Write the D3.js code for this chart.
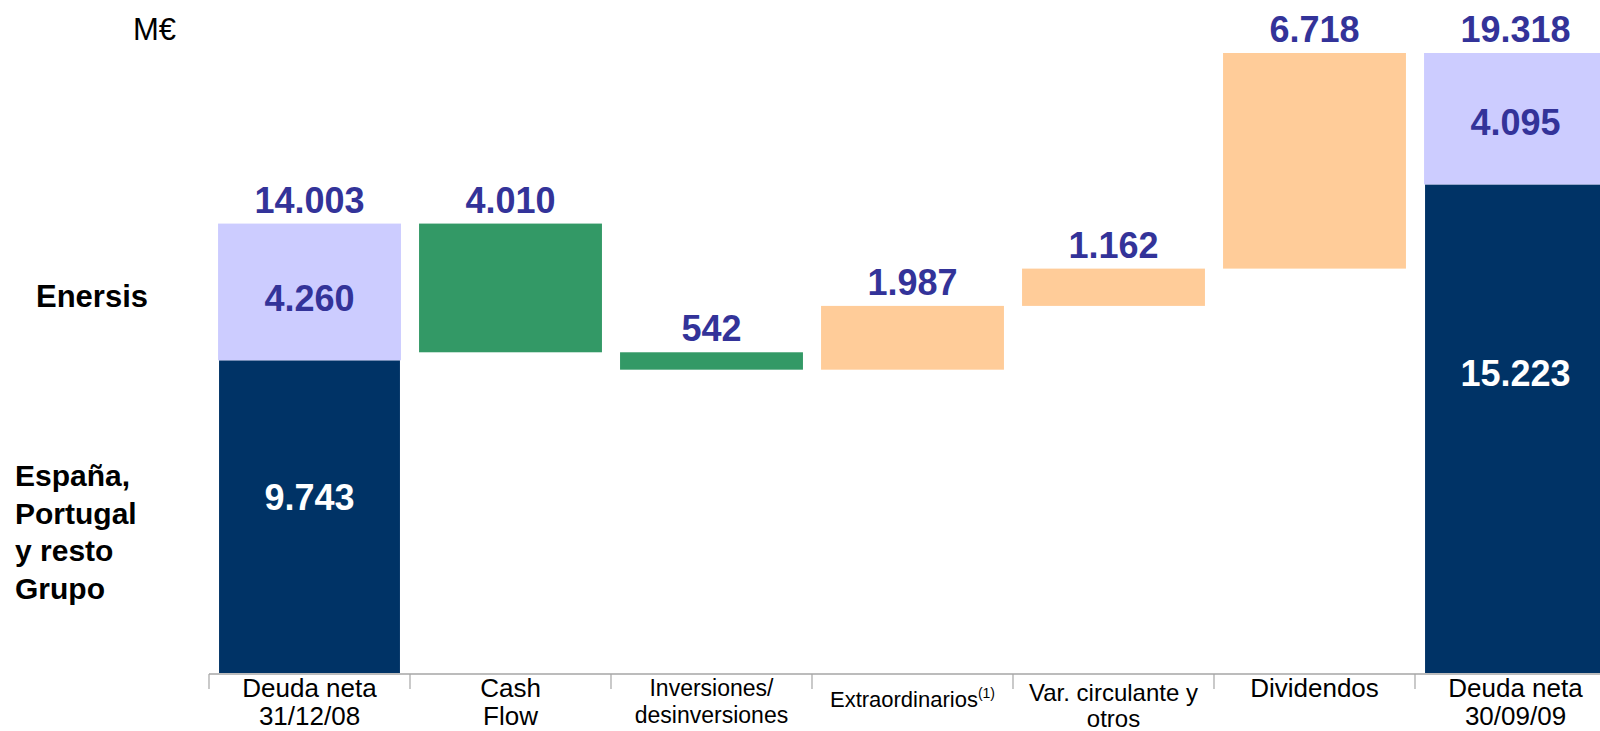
<!DOCTYPE html>
<html>
<head>
<meta charset="utf-8">
<script src="https://cdn.jsdelivr.net/npm/d3@7"></script>
<style>
  body { margin: 0; background: #fff; }
  text { font-family: "Liberation Sans", Arial, sans-serif; }
</style>
</head>
<body>
<svg id="chart" width="1600" height="731"></svg>
<script>
// categories (tick labels, one entry per line)
var categories = ["ini", "cash", "inv", "extra", "circ", "div", "fin"]
var tickLines = [
  ["Deuda neta", "31/12/08"],
  ["Cash", "Flow"],
  ["Inversiones/", "desinversiones"],
  ["Extraordinarios"],
  ["Var. circulante y", "otros"],
  ["Dividendos"],
  ["Deuda neta", "30/09/09"]
]
var footnotes = ["", "", "", "(1)", "", "", ""]

// opening / closing net debt split (M€)
var openingSplit = [9743, 4260]     // España, Portugal y resto Grupo ; Enersis
var closingSplit = [15223, 4095]
// movements between them
var movements = [-4010, -542, 1987, 1162, 6718]

var rowLabels = [["Enersis"], ["España,", "Portugal", "y resto", "Grupo"]]
var unitLabel = "M€"

var colors = {dark: "#003366", light: "#ccccff", down: "#339966", up: "#ffcc99", value: "#333399"}

var fmt = d3.formatLocale({decimal: ",", thousands: ".", grouping: [3], currency: ["", "€"]}).format(",d")

var svg = d3.select("#chart")

var x = d3.scaleBand()
  .domain(categories)
  .range([209, 1616])
  .paddingInner(0.09)
  .paddingOuter(0.045)

var openTotal = d3.sum(openingSplit)

var y = d3.scaleLinear()
  .domain([0, 19318])
  .range([673, 53])

// build floating steps
var run = openTotal
var steps = movements.map(function(v, i) {
  var start = run
  run = run + v
  return {cat: categories[i + 1], from: start, to: run, v: v}
})

// stacked end bars
var stacks = [
  {cat: categories[0], parts: openingSplit},
  {cat: categories[6], parts: closingSplit}
]

var g = svg.append("g")

stacks.forEach(function(s, si) {
  var base = 0
  s.parts.forEach(function(v, pi) {
    g.append("rect")
      .attr("x", x(s.cat) + (pi == 0 ? 1 : 0))
      .attr("width", x.bandwidth() - (pi == 0 ? 2 : 0))
      .attr("y", y(base + v))
      .attr("height", y(base) - y(base + v))
      .attr("fill", pi == 0 ? colors.dark : colors.light)
    // label inside segment (dark one sits a bit above its middle)
    var mid = (y(base) + y(base + v)) / 2
    var nudge = pi == 0 ? (si == 0 ? -20 : -56) : (si == 0 ? 6 : 3)
    g.append("text")
      .attr("x", x(s.cat) + x.bandwidth() / 2)
      .attr("y", mid + nudge + 13)
      .attr("text-anchor", "middle")
      .attr("font-size", 36)
      .attr("font-weight", "bold")
      .attr("fill", pi == 0 ? "#fff" : colors.value)
      .text(fmt(v))
    base += v
  })
  g.append("text")
    .attr("x", x(s.cat) + x.bandwidth() / 2)
    .attr("y", y(base) - 11)
    .attr("text-anchor", "middle")
    .attr("font-size", 36)
    .attr("font-weight", "bold")
    .attr("fill", colors.value)
    .text(fmt(base))
})

g.selectAll(".step")
  .data(steps)
  .enter()
  .append("rect")
  .attr("class", "step")
  .attr("x", function(d) { return x(d.cat) })
  .attr("width", x.bandwidth())
  .attr("y", function(d) { return y(Math.max(d.from, d.to)) })
  .attr("height", function(d) { return Math.abs(y(d.from) - y(d.to)) })
  .attr("fill", function(d) { return d.v < 0 ? colors.down : colors.up })

g.selectAll(".stepLabel")
  .data(steps)
  .enter()
  .append("text")
  .attr("class", "stepLabel")
  .attr("x", function(d) { return x(d.cat) + x.bandwidth() / 2 })
  .attr("y", function(d) { return y(Math.max(d.from, d.to)) - 11 })
  .attr("text-anchor", "middle")
  .attr("font-size", 36)
  .attr("font-weight", "bold")
  .attr("fill", colors.value)
  .text(function(d) { return fmt(Math.abs(d.v)) })

// category axis
var axisY = 674
var step = x.step()
var bandStart = x(categories[0]) - x.paddingOuter() * step
svg.append("line")
  .attr("x1", bandStart).attr("x2", 1600)
  .attr("y1", axisY).attr("y2", axisY)
  .attr("stroke", "#a6a6a6").attr("stroke-width", 1.5)

categories.forEach(function(c, i) {
  var left = bandStart + i * step
  svg.append("line")
    .attr("x1", left).attr("x2", left)
    .attr("y1", axisY).attr("y2", axisY + 15)
    .attr("stroke", "#a6a6a6").attr("stroke-width", 1.2)
})

var tickSize = [26, 26, 23, 22, 24, 26, 26]
var tickTop = [697, 697, 696, 707, 701, 697, 697]
var tickGap = [28, 28, 27, 0, 26, 0, 28]

categories.forEach(function(c, i) {
  var cx = x(c) + x.bandwidth() / 2
  var t = svg.append("text")
    .attr("text-anchor", "middle")
    .attr("font-size", tickSize[i])
    .attr("fill", "#000")
  tickLines[i].forEach(function(line, li) {
    t.append("tspan")
      .attr("x", cx)
      .attr("y", tickTop[i] + li * tickGap[i])
      .text(line)
  })
  if (footnotes[i]) {
    t.append("tspan")
      .attr("font-size", 14)
      .attr("dy", -9)
      .text(footnotes[i])
  }
})

// row labels at the left
svg.append("text")
  .attr("x", 133).attr("y", 40)
  .attr("font-size", 31)
  .text(unitLabel)

svg.append("text")
  .attr("x", 36).attr("y", 307)
  .attr("font-size", 31)
  .attr("font-weight", "bold")
  .text(rowLabels[0][0])

var grp = svg.append("text")
  .attr("font-size", 30)
  .attr("font-weight", "bold")
rowLabels[1].forEach(function(line, i) {
  grp.append("tspan")
    .attr("x", 15)
    .attr("y", 486 + i * 37.5)
    .text(line)
})
</script>
</body>
</html>
